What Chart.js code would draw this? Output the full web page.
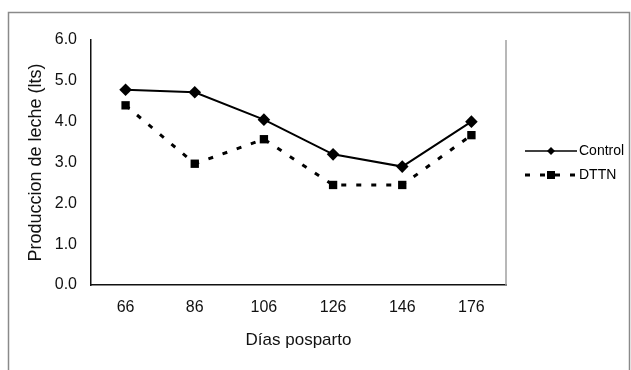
<!DOCTYPE html>
<html>
<head>
<meta charset="utf-8">
<script src="https://cdn.jsdelivr.net/npm/chart.js@4.4.0/dist/chart.umd.min.js"></script>
<style>
  html, body { margin: 0; padding: 0; background: #fff; }
  #wrap { width: 631px; height: 370px; position: relative; }
</style>
</head>
<body>
<div id="wrap"><canvas id="c" width="631" height="370"></canvas></div>
<script>
const categories = ['66', '86', '106', '126', '146', '176'];
const controlValues = [4.78, 4.72, 4.05, 3.20, 2.90, 4.00];
const dttnValues = [4.40, 2.97, 3.57, 2.45, 2.45, 3.67];
const seriesLabels = ['Control', 'DTTN'];
const yTicks = [0, 1, 2, 3, 4, 5, 6];
const xTitle = 'Días posparto';
const yTitle = 'Produccion de leche (lts)';

const FONT = "'Liberation Sans', Arial, sans-serif";

const framePlugin = {
  id: 'frame',
  beforeDraw(chart) {
    const ctx = chart.ctx;
    ctx.save();
    ctx.fillStyle = '#fff';
    ctx.fillRect(0, 0, chart.width, chart.height);
    ctx.strokeStyle = '#8a8a8a';
    ctx.lineWidth = 1.5;
    ctx.beginPath();
    ctx.moveTo(8.5, 370);
    ctx.lineTo(8.5, 12.5);
    ctx.lineTo(629.5, 12.5);
    ctx.lineTo(629.5, 370);
    ctx.stroke();
    ctx.restore();
  },
  afterDraw(chart) {
    const ctx = chart.ctx;
    const a = chart.chartArea;
    ctx.save();
    ctx.strokeStyle = '#a0a0a0';
    ctx.lineWidth = 1.5;
    ctx.beginPath();
    ctx.moveTo(a.right, a.top);
    ctx.lineTo(a.right, a.bottom);
    ctx.stroke();

    // legend
    const rows = [151, 175];
    chart.data.datasets.forEach((ds, i) => {
      const y = rows[i];
      const x0 = 525, x1 = 577, xm = 551;
      ctx.strokeStyle = '#000';
      ctx.lineWidth = i === 0 ? 1.5 : 3;
      ctx.setLineDash(i === 0 ? [] : [5, 10]);
      ctx.beginPath();
      ctx.moveTo(x0, y);
      ctx.lineTo(x1, y);
      ctx.stroke();
      ctx.setLineDash([]);
      ctx.fillStyle = '#000';
      ctx.beginPath();
      if (i === 0) {
        ctx.moveTo(xm, y - 4); ctx.lineTo(xm + 4, y); ctx.lineTo(xm, y + 4); ctx.lineTo(xm - 4, y);
        ctx.closePath();
      } else {
        ctx.rect(xm - 4, y - 4, 8, 8);
      }
      ctx.fill();
      ctx.font = '14px ' + FONT;
      ctx.textBaseline = 'middle';
      ctx.textAlign = 'left';
      ctx.fillText(ds.label, 579, y);
    });
    ctx.restore();
  }
};

new Chart(document.getElementById('c'), {
  type: 'line',
  data: {
    labels: categories,
    datasets: [
      {
        label: seriesLabels[0],
        data: controlValues,
        borderColor: '#000',
        backgroundColor: '#000',
        borderWidth: 2,
        pointStyle: 'rectRot',
        pointRadius: 6.3,
        pointBorderWidth: 0,
        tension: 0,
        fill: false
      },
      {
        label: seriesLabels[1],
        data: dttnValues,
        borderColor: '#000',
        backgroundColor: '#000',
        borderWidth: 3,
        borderDash: [5, 10],
        pointStyle: 'rect',
        pointRadius: 5.9,
        pointBorderWidth: 0,
        tension: 0,
        fill: false
      }
    ]
  },
  options: {
    responsive: false,
    animation: false,
    devicePixelRatio: 1,
    layout: { padding: { top: 40, right: 125, bottom: 0, left: 0 } },
    plugins: {
      legend: { display: false },
      tooltip: { enabled: false }
    },
    scales: {
      x: {
        type: 'category',
        offset: true,
        grid: { display: false, drawTicks: false },
        border: { display: true, color: '#111', width: 1.5 },
        ticks: { color: '#111', font: { family: FONT, size: 16 }, padding: 13, maxRotation: 0 },
        title: {
          display: true, text: xTitle, color: '#111',
          font: { family: FONT, size: 17 },
          padding: { top: 0, bottom: 19 }
        },
        afterFit(scale) { scale.height = 85; }
      },
      y: {
        min: 0, max: 6,
        afterBuildTicks(scale) { scale.ticks = yTicks.map(v => ({ value: v })); },
        grid: { display: false, drawTicks: false },
        border: { display: true, color: '#111', width: 1.5 },
        ticks: {
          color: '#111', font: { family: FONT, size: 16 }, padding: 14,
          callback: v => Number(v).toFixed(1)
        },
        title: {
          display: true, text: yTitle, color: '#111',
          font: { family: FONT, size: 18 },
          padding: { top: 25, bottom: 0 }
        },
        afterFit(scale) { scale.width = 91; }
      }
    }
  },
  plugins: [framePlugin]
});
</script>
</body>
</html>
